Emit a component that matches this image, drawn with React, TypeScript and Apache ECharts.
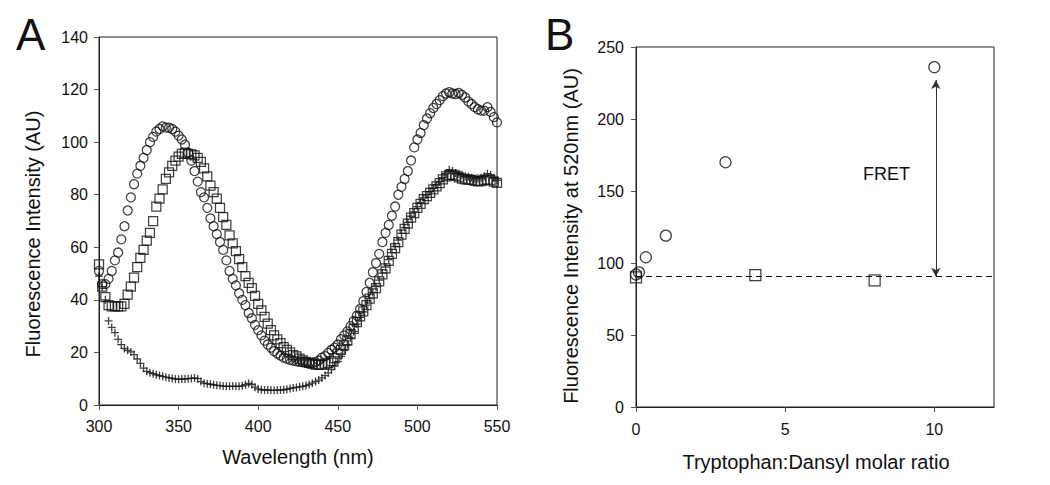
import React, { useEffect, useRef } from "react";
import * as echarts from "echarts";

// ---------- Panel A: emission spectra (2 nm steps, 300–550 nm) ----------
const wavelengths: number[] = [];
for (let w = 300; w <= 550; w += 2) wavelengths.push(w);

const circlesA = [
  51, 46, 46, 48, 51, 55, 58, 63, 68, 74, 79, 84, 88, 91, 94, 97, 100, 102, 104, 105,
  106, 105.5, 105.5, 105, 104, 102.5, 101, 99, 96, 93, 89, 85, 81, 79, 75, 71, 68, 65, 62, 59,
  55, 51, 48, 45.5, 42.5, 40, 38, 35, 33, 30.5, 28.5, 26.5, 24.5, 23, 21.8, 20.5, 19.6, 18.8, 18, 17.6,
  17.2, 16.9, 16.6, 16.4, 16.2, 16.1, 16, 16.1, 16.3, 17, 18, 18.6, 19.8, 21, 21.8, 23, 25, 26.5, 28, 30,
  32, 34, 36.5, 39.5, 43, 46.5, 50.5, 54, 57.5, 62, 65.5, 68.5, 72, 75.5, 80, 83, 86, 89, 93, 98,
  101, 103.5, 106.5, 109, 111, 113, 114.5, 116, 117.5, 118.5, 119, 118.5, 118.3, 118.7, 118, 117, 115.5, 114.5, 113.3, 112.5,
  112, 112, 113.3, 111.5, 109.5, 107.5,
];

const squaresA = [
  53.5, 45, 41, 38, 37.5, 37.5, 37.5, 37.5, 38.5, 42, 45, 48.5, 52.5, 56, 59, 62.5, 65.5, 70, 75.5, 78.5,
  82, 86, 88.5, 91, 93, 94.5, 95.5, 96, 95.5, 95.3, 95, 94, 92.5, 90, 87, 83.5, 81, 78.5, 75, 71.5,
  68.5, 64.5, 61.5, 58.5, 55.5, 52.5, 49, 46.5, 44.5, 41.5, 38.5, 36, 33.5, 31, 28.5, 26.5, 25, 23.5, 22, 21,
  20, 19, 18.5, 17.6, 17, 16.4, 16, 15.6, 15.4, 15.3, 15.3, 15.6, 16, 16.7, 17.8, 19.5, 21, 22.8, 24.5, 27,
  29, 31.5, 33.7, 35.6, 38, 40.5, 42.5, 44.5, 47, 49.7, 52, 54.8, 57.5, 59.7, 62, 64.8, 67, 69, 71.3, 73,
  75, 76.5, 78.3, 79.5, 80.7, 82, 83.2, 84.4, 85.8, 87, 87.5, 87.6, 87.2, 86.6, 86.1, 85.8, 85.7, 85.6, 85.3, 85.1,
  85.2, 85.6, 85.7, 85.5, 85, 84.5,
];

const crossesA = [
  49, 45, 40, 32, 29.5, 27.5, 25, 23, 21.5, 20.8, 20.2, 19.2, 17.5, 15.8, 14, 12.8, 12.3, 11.9, 11.5, 11.2,
  10.9, 10.6, 10.3, 10.1, 9.9, 9.8, 9.9, 9.9, 10, 10.1, 10.3, 10, 8.9, 8.3, 8.1, 7.9, 7.7, 7.5, 7.4, 7.2,
  7.1, 7.1, 7.2, 7.1, 7.1, 7.3, 7.7, 8.2, 7.8, 6.8, 6.1, 5.8, 5.7, 5.7, 5.6, 5.6, 5.7, 5.7, 5.8, 6,
  6.3, 6.5, 6.7, 6.9, 7.1, 7.4, 7.8, 8.3, 8.9, 9.5, 10.3, 11.2, 12.2, 13.5, 14.8, 16.5, 18.5, 20.8, 23, 25.5,
  28, 30.8, 33.3, 35.4, 38, 40.5, 42.8, 45, 47.5, 50.2, 52.5, 55.3, 58, 60.3, 62.7, 65.3, 67.5, 69.5, 71.8, 73.5,
  75.5, 77, 78.8, 80, 81.2, 82.5, 83.8, 85, 86.5, 88, 89.5, 89, 88.3, 88, 87.6, 87, 86.8, 86.5, 86, 86.3,
  86.5, 87, 88, 87.5, 86.5, 85.5,
];

// ---------- Panel B: intensity at 520 nm vs molar ratio ----------
const ratioCircles = [0, 0.1, 0.33, 1, 3, 10];
const intensityCircles = [92, 93.5, 104, 119, 170, 236];
const ratioSquares = [0, 4, 8];
const intensitySquares = [90, 91.5, 88];
const baselineB = 91;
const fretArrow = { x: 10.05, top: 227, bottom: 90.5 };
const fretLabel = { x: 8.4, y: 162, text: "FRET" };

const xTicksA = [300, 350, 400, 450, 500, 550];
const yTicksA = [0, 20, 40, 60, 80, 100, 120, 140];
const xTicksB = [0, 5, 10];
const yTicksB = [0, 50, 100, 150, 200, 250];

const FONT = "'Liberation Sans', Arial, sans-serif";
const INK = "#111";

const pairs = (xs: number[], ys: number[]) => xs.map((x, i) => [x, ys[i]]);

export default function App() {
  const ref = useRef<HTMLDivElement>(null);

  useEffect(() => {
    if (!ref.current) return;
    const chart = echarts.init(ref.current, undefined, { renderer: "svg" });

    const axisCommon = {
      axisLine: { show: true, lineStyle: { color: "#222", width: 1 } },
      axisTick: { show: true, inside: false, length: 5, lineStyle: { color: "#555", width: 1 } },
      splitLine: { show: false },
      axisLabel: { color: INK, fontSize: 16, fontFamily: FONT },
    };

    const hollow = { color: "transparent", borderColor: INK, borderWidth: 1.25 };

    chart.setOption({
      animation: false,
      backgroundColor: "#fff",
      textStyle: { fontFamily: FONT },
      grid: [
        { left: 99, top: 37, width: 398, height: 368, show: true, borderColor: "#222", borderWidth: 1, backgroundColor: "transparent" },
        { left: 636, top: 47, width: 358, height: 360, show: true, borderColor: "#222", borderWidth: 1, backgroundColor: "transparent" },
      ],
      xAxis: [
        {
          ...axisCommon, type: "value", gridIndex: 0, min: 300, max: 550, interval: 50,
          axisTick: { ...axisCommon.axisTick, customValues: xTicksA },
          axisLabel: { ...axisCommon.axisLabel, margin: 13, customValues: xTicksA },
        },
        {
          ...axisCommon, type: "value", gridIndex: 1, min: 0, max: 12, interval: 5,
          axisTick: { ...axisCommon.axisTick, customValues: xTicksB },
          axisLabel: { ...axisCommon.axisLabel, margin: 14, customValues: xTicksB },
        },
      ],
      yAxis: [
        {
          ...axisCommon, type: "value", gridIndex: 0, min: 0, max: 140, interval: 20,
          axisTick: { ...axisCommon.axisTick, customValues: yTicksA },
          axisLabel: { ...axisCommon.axisLabel, margin: 11, customValues: yTicksA },
        },
        {
          ...axisCommon, type: "value", gridIndex: 1, min: 0, max: 250, interval: 50,
          axisTick: { ...axisCommon.axisTick, customValues: yTicksB },
          axisLabel: { ...axisCommon.axisLabel, margin: 12, customValues: yTicksB },
        },
      ],
      series: [
        {
          name: "circles A", type: "scatter", xAxisIndex: 0, yAxisIndex: 0,
          symbol: "circle", symbolSize: 9, itemStyle: hollow,
          data: pairs(wavelengths, circlesA), clip: false,
        },
        {
          name: "squares A", type: "scatter", xAxisIndex: 0, yAxisIndex: 0,
          symbol: "rect", symbolSize: 9, itemStyle: hollow,
          data: pairs(wavelengths, squaresA), clip: false,
        },
        {
          name: "crosses A", type: "scatter", xAxisIndex: 0, yAxisIndex: 0,
          symbol: "path://M5,0 L5,10 M0,5 L10,5", symbolSize: 8,
          itemStyle: { color: "transparent", borderColor: INK, borderWidth: 1.3 },
          data: pairs(wavelengths, crossesA), clip: false,
        },
        {
          name: "circles B", type: "scatter", xAxisIndex: 1, yAxisIndex: 1,
          symbol: "circle", symbolSize: 11, itemStyle: hollow,
          data: pairs(ratioCircles, intensityCircles), clip: false,
          markLine: {
            silent: true, symbol: ["none", "none"], label: { show: false },
            lineStyle: { color: INK, type: [6, 4], width: 1.2 },
            data: [{ yAxis: baselineB }],
          },
        },
        {
          name: "squares B", type: "scatter", xAxisIndex: 1, yAxisIndex: 1,
          symbol: "rect", symbolSize: 11, itemStyle: hollow,
          data: pairs(ratioSquares, intensitySquares), clip: false,
          markLine: {
            silent: true, symbol: ["arrow", "arrow"], symbolSize: [7, 9],
            label: { show: false },
            lineStyle: { color: "#333", type: "solid", width: 1 },
            data: [[{ coord: [fretArrow.x, fretArrow.top] }, { coord: [fretArrow.x, fretArrow.bottom] }]],
          },
          markPoint: {
            silent: true, symbol: "circle", symbolSize: 0,
            label: { show: true, formatter: fretLabel.text, color: INK, fontSize: 18, fontFamily: FONT, position: "inside" },
            data: [{ coord: [fretLabel.x, fretLabel.y] }],
          },
        },
      ],
      graphic: [
        { type: "text", x: 16, y: 34, style: { text: "A", fontSize: 44, fontFamily: FONT, fill: INK, align: "left", verticalAlign: "middle" } },
        { type: "text", x: 545, y: 34, style: { text: "B", fontSize: 44, fontFamily: FONT, fill: INK, align: "left", verticalAlign: "middle" } },
        { type: "text", x: 298, y: 457, style: { text: "Wavelength (nm)", fontSize: 20, fontFamily: FONT, fill: INK, align: "center", verticalAlign: "middle" } },
        { type: "text", x: 816, y: 462, style: { text: "Tryptophan:Dansyl molar ratio", fontSize: 20, fontFamily: FONT, fill: INK, align: "center", verticalAlign: "middle" } },
        { type: "text", x: 33, y: 234, rotation: Math.PI / 2, style: { text: "Fluorescence Intensity (AU)", fontSize: 20, fontFamily: FONT, fill: INK, align: "center", verticalAlign: "middle" } },
        { type: "text", x: 571, y: 236, rotation: Math.PI / 2, style: { text: "Fluorescence Intensity at 520nm (AU)", fontSize: 20, fontFamily: FONT, fill: INK, align: "center", verticalAlign: "middle" } },
      ],
    });

    return () => chart.dispose();
  }, []);

  return (
    <div
      ref={ref}
      style={{ position: "fixed", left: 0, top: 0, width: 1050, height: 485, background: "#fff" }}
    />
  );
}
